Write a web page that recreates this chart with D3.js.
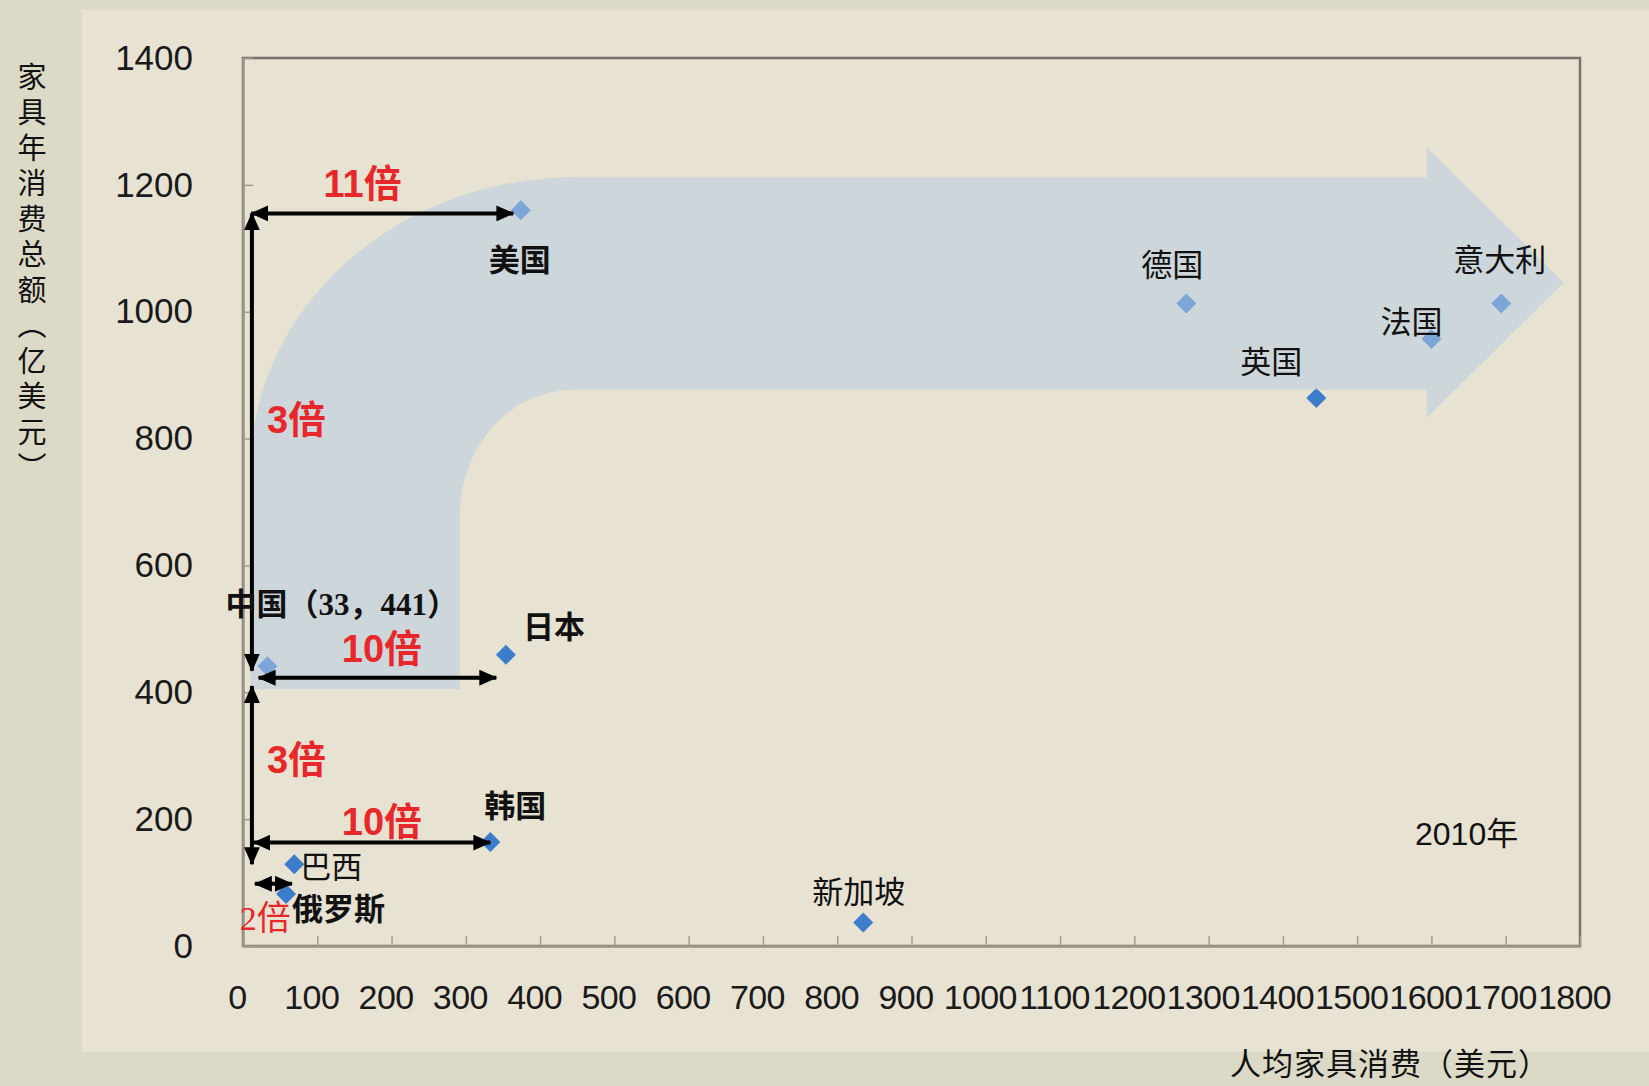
<!DOCTYPE html>
<html>
<head>
<meta charset="utf-8">
<script src="https://cdn.jsdelivr.net/npm/d3@7"></script>
<style>
  body { margin: 0; background: #dcd9c7; }
  svg { display: block; }
</style>
</head>
<body>
<div id="chart"></div>
<script>
// countries and their values (2010)
const countries = ["美国", "中国", "日本", "韩国", "巴西", "俄罗斯", "新加坡", "德国", "英国", "法国", "意大利"];
const perCapita = [374, 33, 354, 333, 69, 58, 835, 1270, 1445, 1600, 1694];   // 人均家具消费（美元）
const totalSpend = [1160, 441, 459, 164, 129, 82, 37, 1013, 864, 957, 1013];  // 家具年消费总额（亿美元）

const xTickValues = [0, 100, 200, 300, 400, 500, 600, 700, 800, 900, 1000, 1100, 1200, 1300, 1400, 1500, 1600, 1700, 1800];
const yTickValues = [0, 200, 400, 600, 800, 1000, 1200, 1400];

// multiplier annotations (double arrows, in data units)
const arrowFrom = [[11, 1155], [12, 1155], [21, 423], [12, 410], [14, 163], [16, 98]];
const arrowTo = [[364, 1155], [12, 434], [341, 423], [12, 129], [333, 163], [66, 98]];
const multLabels = ["11倍", "3倍", "10倍", "3倍", "10倍", "2倍"];
const multAt = [[161, 1203], [72, 831], [187, 470], [72, 295], [187, 197], [30, 44]];

const width = 1649;
const height = 1086;
const margin = { top: 58, right: 69, bottom: 140, left: 243 };

const sans = "'Liberation Sans', Arial, 'Noto Sans CJK SC', sans-serif";
const cjk = "'Noto Sans CJK SC', 'Liberation Serif', serif";
const serifCjk = "'Liberation Serif', 'Noto Sans CJK SC', serif";

const svg = d3
  .select("#chart")
  .append("svg")
  .attr("width", width)
  .attr("height", height);

// panel background
svg.append("rect").attr("width", width).attr("height", height).attr("fill", "#dcd9c7");
svg.append("rect").attr("x", 82).attr("y", 10).attr("width", width - 82).attr("height", 1042).attr("fill", "#e7e2d2");

const x = d3
  .scaleLinear()
  .domain([0, 1800])
  .range([margin.left, width - margin.right]);

const y = d3
  .scaleLinear()
  .domain([0, 1400])
  .range([height - margin.bottom, margin.top]);

// plot frame
svg
  .append("rect")
  .attr("x", x(0))
  .attr("y", y(1400))
  .attr("width", x(1800) - x(0))
  .attr("height", y(0) - y(1400))
  .attr("fill", "none")
  .attr("stroke", "#77726a")
  .attr("stroke-width", 2.5);

// x axis
const gx = svg
  .append("g")
  .attr("transform", `translate(0, ${y(0)})`)
  .call(
    d3.axisBottom(x).tickValues(xTickValues).tickFormat(d3.format("d"))
      .tickSize(-10).tickSizeOuter(0).tickPadding(39)
  );
gx.selectAll("text")
  .attr("dx", -6)
  .attr("font-size", 34)
  .attr("letter-spacing", -0.6)
  .attr("font-family", sans)
  .attr("fill", "#1a1a1a");

// y axis
const gy = svg
  .append("g")
  .attr("transform", `translate(${x(0)}, 0)`)
  .call(
    d3.axisLeft(y).tickValues(yTickValues).tickFormat(d3.format("d"))
      .tickSize(-10).tickSizeOuter(0).tickPadding(50)
  );
gy.selectAll("text")
  .attr("font-size", 35)
  .attr("font-family", sans)
  .attr("fill", "#1a1a1a");

svg.selectAll(".domain").attr("stroke", "#9d978a").attr("stroke-width", 2.5);
svg.selectAll(".tick line").attr("stroke", "#a39d90").attr("stroke-width", 1.5);

// points
const pts = countries.map((c, i) => ({ name: c, px: perCapita[i], tot: totalSpend[i] }));
svg
  .append("g")
  .selectAll("path")
  .data(pts)
  .enter()
  .append("path")
  .attr("d", d3.symbol(d3.symbolSquare, 200))
  .attr("transform", (d) => `translate(${x(d.px)}, ${y(d.tot)}) rotate(45)`)
  .attr("fill", "#3c7dcb");

// big translucent bent arrow (in data units)
const ox = 447, oy = 750; // outer curve centre
const outerRx = x(ox) - x(10), outerRy = y(oy) - y(1212);
const innerRx = x(444) - x(292), innerRy = y(679) - y(877);
const d =
  `M${x(10)},${y(405)} L${x(10)},${y(oy)} ` +
  `A${outerRx},${outerRy} 0 0 1 ${x(ox)},${y(1212)} ` +
  `L${x(1594)},${y(1212)} L${x(1594)},${y(1259)} L${x(1778)},${y(1046)} ` +
  `L${x(1594)},${y(833)} L${x(1594)},${y(877)} L${x(444)},${y(877)} ` +
  `A${innerRx},${innerRy} 0 0 0 ${x(292)},${y(679)} L${x(292)},${y(405)} Z`;
svg
  .append("path")
  .attr("d", d)
  .attr("fill", "#b6cbe2")
  .attr("fill-opacity", 0.52);

// arrow markers
const defs = svg.append("defs");
defs
  .append("marker")
  .attr("id", "head")
  .attr("viewBox", "0 -8 18 16")
  .attr("refX", 17)
  .attr("refY", 0)
  .attr("markerUnits", "userSpaceOnUse")
  .attr("markerWidth", 18)
  .attr("markerHeight", 16)
  .attr("orient", "auto-start-reverse")
  .append("path")
  .attr("d", "M0,-8L18,0L0,8Z")
  .attr("fill", "#000");

svg
  .append("g")
  .selectAll("line")
  .data(arrowFrom)
  .enter()
  .append("line")
  .attr("x1", (d) => x(d[0]))
  .attr("y1", (d) => y(d[1]))
  .attr("x2", (d, i) => x(arrowTo[i][0]))
  .attr("y2", (d, i) => y(arrowTo[i][1]))
  .attr("stroke", "#000")
  .attr("stroke-width", 4)
  .attr("marker-start", "url(#head)")
  .attr("marker-end", "url(#head)");

// multiplier labels
svg
  .append("g")
  .selectAll("text")
  .data(multLabels)
  .enter()
  .append("text")
  .attr("x", (d, i) => x(multAt[i][0]))
  .attr("y", (d, i) => y(multAt[i][1]))
  .attr("dy", "0.36em")
  .attr("text-anchor", "middle")
  .attr("font-family", (d, i) => (i === 5 ? serifCjk : sans))
  .attr("font-weight", (d, i) => (i === 5 ? "normal" : "bold"))
  .attr("font-size", (d, i) => (i === 5 ? 34 : 38))
  .attr("fill", "#e8272b")
  .text((d) => d);

// country labels (offsets in px from the point)
const labelText = ["美国", "中国（33，441）", "日本", "韩国", "巴西", "俄罗斯", "新加坡", "德国", "英国", "法国", "意大利"];
const labelDx = [-1, -42, 17, -6, 6, 6, -51, -45, -76, -51, -48];
const labelDy = [50, -62, -28, -36, 3, 15, -31, -39, -36, -17, -44];
const labelAnchor = ["middle", "start", "start", "start", "start", "start", "start", "start", "start", "start", "start"];
const labelBold = [true, true, true, true, false, true, false, false, false, false, false];

svg
  .append("g")
  .selectAll("text")
  .data(pts)
  .enter()
  .append("text")
  .attr("x", (d, i) => x(d.px) + labelDx[i])
  .attr("y", (d, i) => y(d.tot) + labelDy[i])
  .attr("dy", "0.36em")
  .attr("text-anchor", (d, i) => labelAnchor[i])
  .attr("font-family", (d, i) => (i === 1 ? serifCjk : cjk))
  .attr("font-weight", (d, i) => (labelBold[i] ? "bold" : "normal"))
  .attr("font-size", 31)
  .attr("fill", "#111")
  .text((d, i) => labelText[i]);

// year note
svg
  .append("text")
  .attr("x", 1415)
  .attr("y", 833)
  .attr("dy", "0.36em")
  .attr("font-family", sans)
  .attr("font-size", 32)
  .attr("fill", "#111")
  .text("2010年");

// y axis title, written vertically
svg
  .append("text")
  .attr("x", 32)
  .attr("y", 62)
  .style("writing-mode", "vertical-rl")
  .style("text-orientation", "upright")
  .style("font-feature-settings", "'vert' 0, 'vrt2' 0")
  .attr("letter-spacing", 6.5)
  .attr("font-family", cjk)
  .attr("font-size", 29)
  .attr("fill", "#111")
  .text("家具年消费总额（亿美元）");

// x axis title
svg
  .append("text")
  .attr("x", 1230)
  .attr("y", 1064)
  .attr("dy", "0.36em")
  .attr("font-family", cjk)
  .attr("font-size", 31)
  .attr("letter-spacing", 1)
  .attr("fill", "#111")
  .text("人均家具消费（美元）");
</script>
</body>
</html>
